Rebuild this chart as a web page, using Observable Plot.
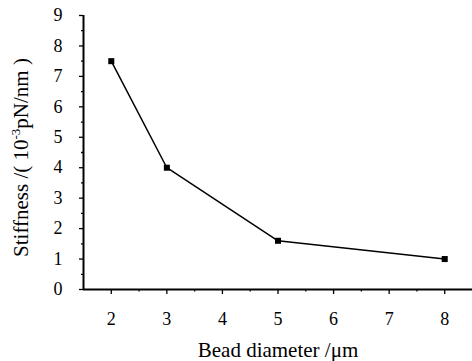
<!DOCTYPE html>
<html>
<head>
<meta charset="utf-8">
<script src="https://cdn.jsdelivr.net/npm/d3@7"></script>
<script src="https://cdn.jsdelivr.net/npm/@observablehq/plot@0.6"></script>
<style>
  html, body { margin: 0; padding: 0; background: #fff; }
</style>
</head>
<body>
<div id="chart"></div>
<script>
const diameters = [2, 3, 5, 8];
const stiffness = [7.5, 4.0, 1.6, 1.0];
const xTicks = [2, 3, 4, 5, 6, 7, 8];
const xMinorTicks = [2.5, 3.5, 4.5, 5.5, 6.5, 7.5];
const yTicks = [0, 1, 2, 3, 4, 5, 6, 7, 8, 9];
const yMinorTicks = [0.5, 1.5, 2.5, 3.5, 4.5, 5.5, 6.5, 7.5, 8.5];
const xLabel = "Bead diameter /μm";
const yLabelParts = ["Stiffness /( 10", "-3", "pN/nm )"];

const data = diameters.map((d, i) => ({d, s: stiffness[i]}));
const FF = "'Liberation Serif', 'Times New Roman', serif";

const chart = Plot.plot({
  width: 472,
  height: 361,
  marginLeft: 83,
  marginRight: 0,
  marginTop: 15,
  marginBottom: 72,
  style: {fontFamily: FF, fontSize: "18px", color: "#000", background: "#fff"},
  x: {domain: [1.5, 8.5]},
  y: {domain: [0, 9]},
  marks: [
    Plot.axisY({ticks: yTicks, tickSize: 4, tickPadding: 17, label: null, strokeWidth: 1.3, tickFormat: d => String(d), fontFamily: FF, fontSize: 18, fontVariant: "normal"}),
    Plot.axisY({ticks: yMinorTicks, tickSize: 2, tickFormat: () => "", label: null, strokeWidth: 1.3}),
    Plot.axisX({ticks: xTicks, tickSize: 5, tickPadding: 18, label: null, strokeWidth: 1.3, tickFormat: d => String(d), fontFamily: FF, fontSize: 18, fontVariant: "normal"}),
    Plot.axisX({ticks: xMinorTicks, tickSize: 2.5, tickFormat: () => "", label: null, strokeWidth: 1.3}),
    Plot.ruleX([1.5], {stroke: "#000", strokeWidth: 2}),
    Plot.ruleY([0], {stroke: "#000", strokeWidth: 2}),
    Plot.line(data, {x: "d", y: "s", stroke: "#000", strokeWidth: 1.5}),
    Plot.dot(data, {x: "d", y: "s", symbol: "square", r: 3.4, fill: "#000", stroke: "none"}),
    Plot.text([xLabel], {frameAnchor: "bottom", dy: 61, text: d => d, fontSize: 21, fontFamily: FF, textAnchor: "middle", lineAnchor: "middle"}),
    Plot.text([yLabelParts.join("")], {frameAnchor: "left", dx: -62, dy: 5, rotate: -90, text: d => d, fontSize: 21, fontFamily: FF, textAnchor: "middle", lineAnchor: "middle", className: "ylab"})
  ]
});

document.getElementById("chart").appendChild(chart);

// render the exponent as a real superscript
const yl = chart.querySelector(".ylab text");
if (yl) {
  yl.textContent = "";
  const ns = "http://www.w3.org/2000/svg";
  const t1 = document.createElementNS(ns, "tspan");
  t1.textContent = yLabelParts[0];
  const t2 = document.createElementNS(ns, "tspan");
  t2.textContent = yLabelParts[1];
  t2.setAttribute("dy", "-8");
  t2.setAttribute("font-size", "13");
  const t3 = document.createElementNS(ns, "tspan");
  t3.textContent = yLabelParts[2];
  t3.setAttribute("dy", "8");
  yl.appendChild(t1); yl.appendChild(t2); yl.appendChild(t3);
}
</script>
</body>
</html>
